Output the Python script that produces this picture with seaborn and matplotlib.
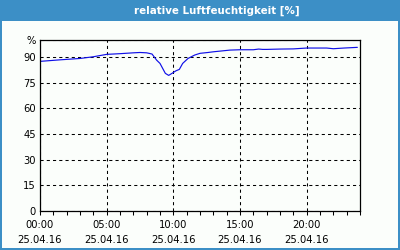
import matplotlib
matplotlib.use("Agg")
import matplotlib.pyplot as plt
import seaborn as sns
import pandas as pd
from matplotlib.patches import Rectangle
from matplotlib.ticker import MultipleLocator

# ---- data ----
hours = [0.0, 1.5, 3.0, 4.0, 5.0, 6.0, 7.0, 7.5, 8.0, 8.4, 8.75, 9.0, 9.2, 9.4,
         9.65, 9.9, 10.2, 10.45, 10.7, 11.1, 11.6, 12.0, 12.6, 13.0, 14.25, 15.0,
         16.0, 16.4, 16.7, 17.0, 18.0, 19.0, 20.0, 21.0, 21.5, 22.0, 22.8, 23.8]
humidity = [87.5, 88.4, 89.2, 90.2, 91.6, 92.0, 92.5, 92.7, 92.5, 91.8, 88.2, 86.3,
            83.4, 80.5, 79.3, 80.5, 82.0, 82.8, 86.3, 89.2, 91.2, 92.2, 92.7, 93.1,
            94.1, 94.3, 94.3, 94.7, 94.5, 94.5, 94.7, 94.8, 95.3, 95.3, 95.3, 94.9,
            95.3, 95.7]
x_ticks = [0, 5, 10, 15, 20]
x_labels = ["00:00\n25.04.16", "05:00\n25.04.16", "10:00\n25.04.16",
            "15:00\n25.04.16", "20:00\n25.04.16"]
y_ticks = [0, 15, 30, 45, 60, 75, 90, 100]
y_labels = ["0", "15", "30", "45", "60", "75", "90", "%"]
title = "relative Luftfeuchtigkeit [%]"

df = pd.DataFrame({"hour": hours, "rh": humidity})

sns.set_style("white")
plt.rcParams["font.family"] = ["DejaVu Sans"]

BLUE = "#3C8FC6"
BG = "#FBFEFB"

fig = plt.figure(figsize=(4, 2.5), dpi=100, facecolor=BG)
fig.patch.set_edgecolor(BLUE)
fig.patch.set_linewidth(1.5)

# header band
fig.patches.append(Rectangle((0, 1 - 21 / 250), 1, 21 / 250, transform=fig.transFigure,
                             facecolor=BLUE, edgecolor="none", zorder=0))
fig.text(217 / 400, 1 - 10.5 / 250, title, color="white", fontweight="bold",
         fontsize=7.4, ha="center", va="center")

ax = fig.add_axes([40 / 400, 39 / 250, 320 / 400, 171 / 250])
ax.set_facecolor(BG)
sns.lineplot(data=df, x="hour", y="rh", ax=ax, color="#1010E8", linewidth=0.85)

ax.set_xlim(0, 24)
ax.set_ylim(0, 100)
ax.set_xticks(x_ticks)
ax.set_xticklabels(x_labels, linespacing=1.6)
ax.xaxis.set_minor_locator(MultipleLocator(1))
ax.set_yticks(y_ticks)
ax.set_yticklabels(y_labels)
ax.set_xlabel("")
ax.set_ylabel("")

ax.tick_params(axis="x", which="both", direction="out", length=3, width=0.75,
               color="black", labelsize=7.2, labelcolor="black", pad=3.5, bottom=True)
ax.tick_params(axis="y", length=0, labelsize=7.2, labelcolor="black", pad=3, left=True)

ax.grid(True, which="major", color="black", linestyle=(0, (3, 3)), linewidth=0.75)
for s in ax.spines.values():
    s.set_visible(True)
    s.set_color("black")
    s.set_linewidth(0.9)

fig.savefig("out.png", dpi=100, facecolor=BG, edgecolor=BLUE)
